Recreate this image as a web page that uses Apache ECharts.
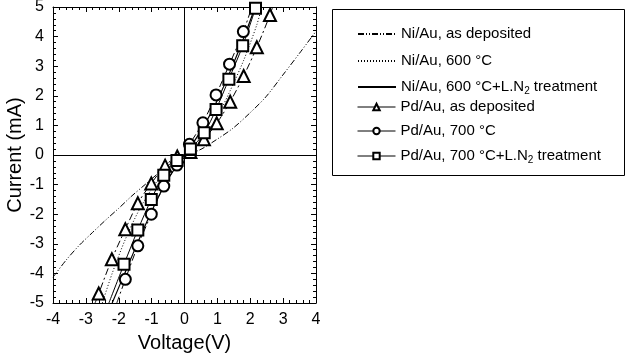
<!DOCTYPE html>
<html>
<head>
<meta charset="utf-8">
<script src="https://cdn.jsdelivr.net/npm/echarts@6/dist/echarts.min.js"></script>
<style>
  html, body { margin: 0; padding: 0; background: #fff; }
  #chart { width: 626px; height: 355px; }
</style>
</head>
<body>
<div id="chart"></div>
<script>
// values: [voltage V, current mA]
const niAsDep = [
  [-4.0, -4.13], [-3.6, -3.55], [-3.2, -3.05], [-2.8, -2.62], [-2.4, -2.2],
  [-2.0, -1.8], [-1.6, -1.38], [-1.2, -1.0], [-0.8, -0.62], [-0.4, -0.28],
  [0, 0], [0.46, 0.17], [0.96, 0.51], [1.47, 0.9], [1.98, 1.41],
  [2.48, 1.97], [2.99, 2.7], [3.5, 3.44], [4.0, 4.18]
];
const ni600 = [
  [-2.5, -5.0], [-2.2, -4.0], [-1.8, -2.85], [-1.4, -1.9], [-1.0, -1.15],
  [-0.6, -0.55], [-0.2, -0.12], [0, 0], [0.2, 0.12], [0.6, 0.6],
  [1.0, 1.3], [1.4, 2.2], [1.8, 3.2], [2.2, 4.4], [2.35, 5.0]
];
const ni600LN2 = [
  [-2.2, -5.0], [-1.8, -3.95], [-1.4, -2.9], [-1.0, -1.9], [-0.6, -1.0],
  [-0.2, -0.3], [0, 0], [0.2, 0.3], [0.6, 1.0], [1.0, 1.85],
  [1.4, 2.85], [1.8, 3.95], [2.15, 5.0]
];
const pdAsDep = [
  [-2.61, -4.68], [-2.21, -3.52], [-1.8, -2.51], [-1.42, -1.63], [-1.01, -0.96],
  [-0.59, -0.36], [-0.22, -0.05], [0.18, 0.1], [0.59, 0.53], [0.98, 1.07],
  [1.39, 1.8], [1.8, 2.67], [2.2, 3.64], [2.6, 4.73]
];
const pd700 = [
  [-1.8, -4.2], [-1.42, -3.07], [-1.01, -2.0], [-0.63, -1.05], [-0.23, -0.34],
  [0.15, 0.36], [0.56, 1.09], [0.96, 2.03], [1.37, 3.07], [1.79, 4.17]
];
const pd700LN2 = [
  [-1.84, -3.69], [-1.42, -2.53], [-1.01, -1.5], [-0.63, -0.68], [-0.23, -0.19],
  [0.18, 0.2], [0.6, 0.75], [0.96, 1.54], [1.35, 2.56], [1.77, 3.69], [2.16, 4.96]
];
// where the fitted lines run on past the last marker
const pdAsDepEnds = [[-2.72, -5.0], [2.68, 5.0]];
const pd700Ends = [[-2.06, -5.0], [2.05, 5.0]];
const pd700LN2Ends = [[-2.3, -5.0]];

const names = [
  "Ni/Au, as deposited",
  "Ni/Au, 600 °C",
  "Ni/Au, 600 °C+L.N2 treatment",
  "Pd/Au, as deposited",
  "Pd/Au, 700 °C",
  "Pd/Au, 700 °C+L.N2 treatment",
];
const legendTops = [34, 61, 87, 107, 131, 156];

const FONT = "'Liberation Sans', Arial, sans-serif";

function withEnds(points, ends) {
  const hidden = ends.map((p) => ({ value: p, symbol: "none" }));
  const all = points.map((p) => ({ value: p })).concat(hidden);
  all.sort((a, b) => a.value[0] - b.value[0]);
  return all;
}

function axisCommon(extra) {
  return Object.assign(
    {
      type: "value",
      min: -4,
      max: 4,
      interval: 1,
      axisLine: { show: true, onZero: false, lineStyle: { color: "#000", width: 1 } },
      axisTick: { show: true, inside: true, length: 5, lineStyle: { color: "#000" } },
      minorTick: { show: true, splitNumber: 5, length: 3, lineStyle: { color: "#000" } },
      splitLine: { show: false },
      axisLabel: { show: true, color: "#000", fontSize: 16, fontFamily: FONT, margin: 9 },
    },
    extra
  );
}

const legends = names.map((n, i) => {
  const lg = {
    data: [n],
    orient: "vertical",
    left: 357,
    top: legendTops[i] - 9,
    padding: 0,
    itemWidth: 38,
    itemHeight: 8,
    itemGap: 0,
    selectedMode: false,
    textStyle: {
      color: "#000",
      fontSize: 15,
      fontFamily: FONT,
      lineHeight: 18,
      rich: {
        t: { fontSize: 15, fontFamily: FONT, color: "#000", lineHeight: 18 },
        s: { fontSize: 10, fontFamily: FONT, color: "#000", lineHeight: 8, verticalAlign: "bottom" },
      },
    },
    formatter: function (name) {
      if (name.indexOf("N2") >= 0) {
        const parts = name.split("N2");
        return "{t|" + parts[0] + "N}{s|2}{t|" + parts[1] + "}";
      }
      return "{t|" + name + "}";
    },
  };
  if (i < 3) {
    // plain curves: line sample only
    lg.itemStyle = { color: "transparent", borderWidth: 0, opacity: 0 };
  } else {
    lg.lineStyle = { type: "solid", color: "#000", width: 1 };
  }
  return lg;
});

const option = {
  animation: false,
  backgroundColor: "#fff",
  grid: { left: 53, right: 310, top: 7, bottom: 52, outerBoundsMode: "none", containLabel: false },
  graphic: [
    {
      type: "rect",
      left: 330,
      top: 7,
      shape: { width: 292, height: 166 },
      style: { fill: "none", stroke: "#000", lineWidth: 1 },
      silent: true,
    },
  ],
  legend: legends,
  xAxis: [
    axisCommon({
      position: "bottom",
      name: "Voltage(V)",
      nameLocation: "middle",
      nameGap: 30,
      nameTextStyle: { color: "#000", fontSize: 20, fontFamily: FONT },
    }),
    axisCommon({ position: "top", axisLabel: { show: false } }),
  ],
  yAxis: [
    axisCommon({
      min: -5,
      max: 5,
      position: "left",
      name: "Current (mA)",
      nameLocation: "middle",
      nameGap: 24,
      nameTextStyle: { color: "#000", fontSize: 20, fontFamily: FONT },
    }),
    axisCommon({ min: -5, max: 5, position: "right", axisLabel: { show: false } }),
  ],
  series: [
    {
      name: names[0],
      type: "line",
      data: niAsDep,
      smooth: 0.3,
      symbol: "none",
      color: "#000",
      lineStyle: { color: "#000", width: 1, type: [6, 2, 1, 2, 1, 2] },
      markLine: {
        silent: true,
        symbol: ["none", "none"],
        label: { show: false },
        lineStyle: { color: "#000", type: "solid", width: 1 },
        data: [{ xAxis: 0 }, { yAxis: 0 }],
      },
    },
    {
      name: names[1],
      type: "line",
      data: ni600,
      smooth: 0.3,
      symbol: "none",
      color: "#000",
      lineStyle: { color: "#000", width: 1, type: [1, 2] },
    },
    {
      name: names[2],
      type: "line",
      data: ni600LN2,
      smooth: 0.3,
      symbol: "none",
      color: "#000",
      lineStyle: { color: "#000", width: 1.2, type: "solid" },
    },
    {
      name: names[3],
      type: "line",
      data: withEnds(pdAsDep, pdAsDepEnds),
      smooth: 0.3,
      symbol: "emptyTriangle",
      symbolSize: 12,
      color: "#000",
      lineStyle: { color: "#000", width: 1, type: [7, 3, 2, 3] },
      itemStyle: { color: "#000", borderWidth: 1 },
    },
    {
      name: names[4],
      type: "line",
      data: withEnds(pd700, pd700Ends),
      smooth: 0.3,
      symbol: "emptyCircle",
      symbolSize: 11,
      color: "#000",
      lineStyle: { color: "#000", width: 1, type: [7, 3, 2, 3] },
      itemStyle: { color: "#000", borderWidth: 1 },
    },
    {
      name: names[5],
      type: "line",
      data: withEnds(pd700LN2, pd700LN2Ends),
      smooth: 0.3,
      symbol: "emptyRect",
      symbolSize: 11,
      color: "#000",
      lineStyle: { color: "#000", width: 1, type: "solid" },
      itemStyle: { color: "#000", borderWidth: 1.2 },
    },
  ],
};

const chart = echarts.init(document.getElementById("chart"), null, { renderer: "canvas" });
chart.setOption(option);
</script>
</body>
</html>
